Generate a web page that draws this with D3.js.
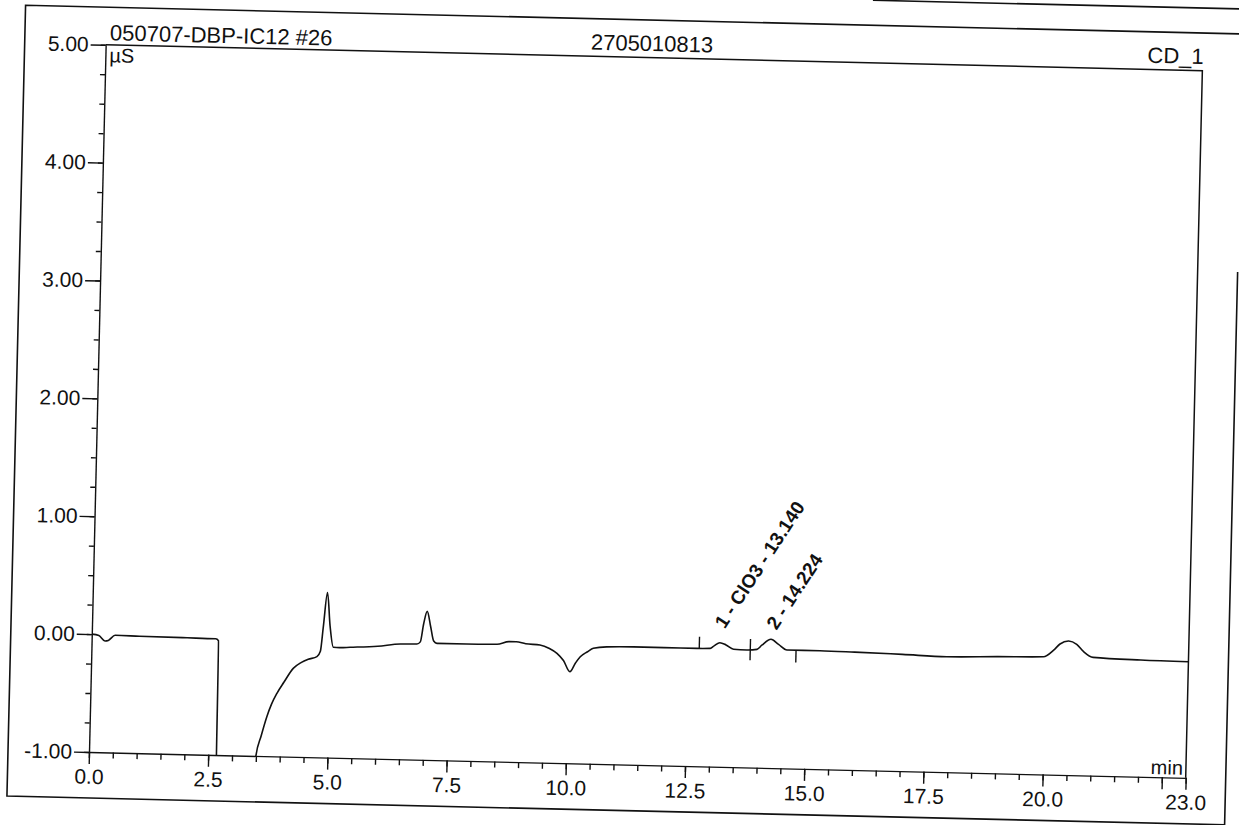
<!DOCTYPE html>
<html><head><meta charset="utf-8">
<script src="https://cdn.jsdelivr.net/npm/d3@7"></script>
<style>body{margin:0;background:#fff}svg{display:block}</style>
</head><body>
<svg id="c" width="1239" height="825"></svg>
<script>
// ---- data ----
const timeMin = [0.00,0.15,0.28,0.35,0.49,1.0,2.0,2.6,2.66,2.68,3.48,3.50,3.60,3.71,3.80,3.91,4.05,4.24,4.40,4.55,4.73,4.80,4.85,4.92,4.99,5.07,5.20,5.42,6.0,6.47,6.82,6.89,6.95,7.02,7.10,7.17,7.24,7.86,8.5,8.75,8.9,9.1,9.4,9.6,9.76,9.9,10.04,10.15,10.25,10.4,10.52,10.8,11.36,12.0,12.69,12.97,13.05,13.17,13.3,13.46,13.74,13.95,14.05,14.24,14.4,14.58,15.27,16.0,17.0,17.93,19.0,19.96,20.17,20.3,20.48,20.65,20.8,21.0,22.0,23.0];
const signalUS = [0.00,-0.01,-0.055,-0.05,-0.005,-0.008,-0.012,-0.015,-0.03,-1.5,-1.5,-1.00,-0.83,-0.665,-0.56,-0.465,-0.37,-0.25,-0.20,-0.17,-0.146,-0.10,0.11,0.40,0.12,-0.063,-0.065,-0.06,-0.045,-0.022,-0.019,0.0,0.15,0.26,0.13,0.01,-0.009,-0.009,-0.005,0.02,0.02,0.005,-0.0025,-0.03,-0.07,-0.13,-0.223,-0.15,-0.094,-0.05,-0.02,-0.005,0.0,0.0,0.0,0.003,0.025,0.053,0.035,0.0,-0.004,0.004,0.04,0.092,0.05,0.004,0.005,0.0,-0.01,-0.021,-0.01,-0.002,0.057,0.11,0.137,0.11,0.049,0.003,-0.01,-0.015];
const xMajorTicks = [0,2.5,5,7.5,10,12.5,15,17.5,20,22.5,23];
const xMajorLabels = ["0.0","2.5","5.0","7.5","10.0","12.5","15.0","17.5","20.0","","23.0"];
const yMajorTicks = [-1,0,1,2,3,4,5];
const yMajorLabels = ["-1.00","0.00","1.00","2.00","3.00","4.00","5.00"];
const peakLabels = ["1 - ClO3 - 13.140","2 - 14.224"];
const peakTimes = [13.140,14.224];
const delimTimes = [12.74,13.81,14.77];
const delimHigh = [0.10,0.09,0.00];
const delimLow = [0.00,-0.09,-0.10];
const headerLeft = "050707-DBP-IC12 #26";
const headerMid = "2705010813";
const headerRight = "CD_1";
const yUnit = "µS";
const xUnit = "min";

// ---- layout ----
const L = 89, R = 1186, T = 44.6, B = 752;
const svg = d3.select("#c");
const root = svg.append("g").attr("transform", `rotate(1.35,${L},${B})`);
const x = d3.scaleLinear().domain([0,23]).range([L,R]);
const y = d3.scaleLinear().domain([-1,5]).range([B,T]);
const ink = "#111";
const font = "'Liberation Sans', Arial, sans-serif";

// outer frame
root.append("path")
  .attr("d", "M1300,7 H8 V798 H1226 V245")
  .attr("fill","none").attr("stroke",ink).attr("stroke-width",1.6);
root.append("line").attr("x1",855).attr("x2",1320).attr("y1",-18).attr("y2",-18)
  .attr("stroke",ink).attr("stroke-width",1.6);

// plot top & right border
root.append("path").attr("d", `M${L},${T} H${R} V${B}`)
  .attr("fill","none").attr("stroke",ink).attr("stroke-width",1.5);

// y axis minor
const yMinor = root.append("g").attr("transform",`translate(${L},0)`)
  .call(d3.axisLeft(y).tickValues(d3.range(-1,5.001,0.25)).tickSize(5).tickFormat(""));
yMinor.select(".domain").remove();
// y axis major
const yAx = root.append("g").attr("transform",`translate(${L},0)`)
  .call(d3.axisLeft(y).tickValues(yMajorTicks).tickSize(15).tickSizeOuter(0).tickPadding(2)
    .tickFormat((d,i)=>yMajorLabels[i]));
// x axis minor
const xMinor = root.append("g").attr("transform",`translate(0,${B})`)
  .call(d3.axisBottom(x).tickValues(d3.range(0,23.001,0.5)).tickSize(6).tickFormat(""));
xMinor.select(".domain").remove();
// x axis major
const xAx = root.append("g").attr("transform",`translate(0,${B})`)
  .call(d3.axisBottom(x).tickValues(xMajorTicks).tickSize(12).tickSizeOuter(0).tickPadding(5)
    .tickFormat((d,i)=>xMajorLabels[i]));

root.selectAll(".tick line, .domain").attr("stroke",ink).attr("stroke-width",1.4);
root.selectAll(".tick text").attr("fill",ink).style("font-family",font).style("font-size","21px");

// header texts
root.append("text").attr("x",93).attr("y",40).text(headerLeft)
  .style("font-family",font).style("font-size","22px").attr("fill",ink);
root.append("text").attr("x",574).attr("y",38).text(headerMid)
  .style("font-family",font).style("font-size","22px").attr("fill",ink);
root.append("text").attr("x",R+1).attr("y",38).attr("text-anchor","end").text(headerRight)
  .style("font-family",font).style("font-size","22px").attr("fill",ink);
root.append("text").attr("x",L+4).attr("y",62).text(yUnit)
  .style("font-family",font).style("font-size","20px").attr("fill",ink);
root.append("text").attr("x",R-3).attr("y",749).attr("text-anchor","end").text(xUnit)
  .style("font-family",font).style("font-size","20px").attr("fill",ink);

// trace
root.append("clipPath").attr("id","plotclip").append("rect")
  .attr("x",L).attr("y",T).attr("width",R-L).attr("height",B-T);
const pts = timeMin.map((t,i)=>[t,signalUS[i]]);
root.append("path").datum(pts)
  .attr("clip-path","url(#plotclip)")
  .attr("d", d3.line().x(d=>x(d[0])).y(d=>y(d[1])).curve(d3.curveMonotoneX))
  .attr("fill","none").attr("stroke",ink).attr("stroke-width",1.6);

// peak delimiters
root.selectAll("line.delim").data(delimTimes).join("line").attr("class","delim")
  .attr("x1",d=>x(d)).attr("x2",d=>x(d))
  .attr("y1",(d,i)=>y(delimHigh[i])).attr("y2",(d,i)=>y(delimLow[i]))
  .attr("stroke",ink).attr("stroke-width",1.4);

// peak labels
root.selectAll("text.peak").data(peakTimes).join("text").attr("class","peak")
  .attr("transform",d=>`translate(${x(d)+6},${y(0.165)}) rotate(-58)`)
  .text((d,i)=>peakLabels[i])
  .style("font-family",font).style("font-size","19px").style("font-weight","bold").attr("fill",ink);
</script>
</body></html>
